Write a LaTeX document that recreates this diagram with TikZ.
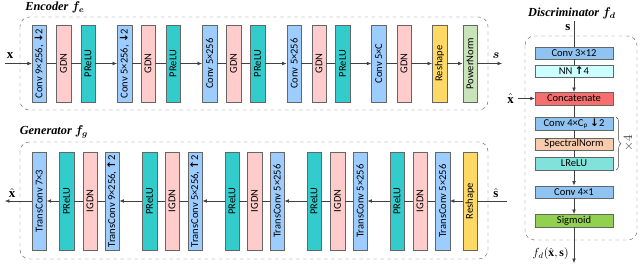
\documentclass[tikz,border=0pt]{standalone}
\usepackage{amsmath,bm}
\usepackage{fontspec}
\setmainfont{Liberation Serif}
\newfontfamily\blockfont{Carlito}
\newfontfamily\arrowfont{DejaVu Sans}
\usetikzlibrary{arrows.meta,decorations.pathreplacing}

\definecolor{convblue}{HTML}{9DCDFF}
\definecolor{gdnpink}{HTML}{FFCCCC}
\definecolor{reluteal}{HTML}{33CCCC}
\definecolor{reshapeyel}{HTML}{FFD966}
\definecolor{pnormgreen}{HTML}{C9E4B8}
\definecolor{dconvblue}{HTML}{8EC3F2}
\definecolor{nncyan}{HTML}{CCFFFF}
\definecolor{catred}{HTML}{F76E6E}
\definecolor{specpeach}{HTML}{F8CBAD}
\definecolor{lreluaqua}{HTML}{80E2DA}
\definecolor{sigmgreen}{HTML}{92D050}

\newcommand{\arrdown}{{\arrowfont\bfseries ↓}}
\newcommand{\arrup}{{\arrowfont\bfseries ↑}}

\begin{document}
\begin{tikzpicture}[
    x=0.03cm, y=-0.03cm,
    >={Latex[length=1.3mm,width=1.1mm]},
    eblock/.style={
        rectangle,
        rotate=90,
        draw=black!60,
        fill=#1,
        minimum width=2.31cm,
        minimum height=0.435cm,
        inner sep=0pt,
        font=\blockfont\fontsize{9}{10}\selectfont
    },
    gblock/.style={
        eblock=#1,
        minimum width=2.94cm
    },
    dblock/.style={
        rectangle,
        draw=black!60,
        fill=#1,
        minimum width=2.34cm,
        minimum height=0.375cm,
        inner sep=0pt,
        font=\blockfont\fontsize{9}{10}\selectfont
    },
    frame/.style={
        draw=black!60,
        dashed,
        rounded corners=8pt
    },
    title/.style={
        font=\fontsize{10.5}{12}\selectfont\bfseries\itshape
    },
    signal/.style={
        font=\fontsize{11}{12}\selectfont
    },
    link/.style={draw=black!75,line width=0.5pt},
    flow/.style={->,draw=black!75,line width=0.5pt}
]
\useasboundingbox (0,0) rectangle (640,272);

% Frames
\draw[frame] (20,17) rectangle (488,110);
\draw[frame] (20,142) rectangle (488,259);
\draw[frame] (525,36) rectangle (637,240);

% Titles
\node[title] (enctitle) at (55,7) {Encoder $\boldsymbol{f_e}$};
\node[title] (gentitle) at (54,132) {Generator $\boldsymbol{f_g}$};
\node[title] (distitle) at (572,13) {Discriminator $\boldsymbol{f_d}$};

% Encoder
\node[eblock=convblue] (e1) at (39.3,63.5) {Conv 9×256, \arrdown2};
\node[eblock=gdnpink] (e2) at (63.5,63.5) {GDN};
\node[eblock=reluteal] (e3) at (88,63.5) {PReLU};
\node[eblock=convblue] (e4) at (124.5,63.5) {Conv 5×256, \arrdown2};
\node[eblock=gdnpink] (e5) at (148,63.5) {GDN};
\node[eblock=reluteal] (e6) at (173,63.5) {PReLU};
\node[eblock=convblue] (e7) at (209.5,63.5) {Conv 5×256};
\node[eblock=gdnpink] (e8) at (233.5,63.5) {GDN};
\node[eblock=reluteal] (e9) at (257.5,63.5) {PReLU};
\node[eblock=convblue] (e10) at (294,63.5) {Conv 5×256};
\node[eblock=gdnpink] (e11) at (319,63.5) {GDN};
\node[eblock=reluteal] (e12) at (342.5,63.5) {PReLU};
\node[eblock=convblue] (e13) at (378.7,63.5) {Conv 5×C};
\node[eblock=gdnpink] (e14) at (404,63.5) {GDN};
\node[eblock=reshapeyel] (e15) at (439.5,63.5) {Reshape};
\node[eblock=pnormgreen] (e16) at (470,63.5) {PowerNorm};

\coordinate (xin) at (5,63.5);
\coordinate (sout) at (502,63.5);
\node[signal] (xlab) at (10,56) {$\mathbf{x}$};
\node[signal] (slab) at (496,56) {$\boldsymbol{s}$};

\draw[flow] (xin) -- (e1);
\draw[link] (e1) -- (e2);
\draw[link] (e2) -- (e3);
\draw[flow] (e3) -- (e4);
\draw[link] (e4) -- (e5);
\draw[link] (e5) -- (e6);
\draw[flow] (e6) -- (e7);
\draw[link] (e7) -- (e8);
\draw[link] (e8) -- (e9);
\draw[flow] (e9) -- (e10);
\draw[link] (e10) -- (e11);
\draw[link] (e11) -- (e12);
\draw[flow] (e12) -- (e13);
\draw[link] (e13) -- (e14);
\draw[flow] (e14) -- (e15);
\draw[flow] (e15) -- (e16);
\draw[flow] (e16) -- (sout);

% Generator
\node[gblock=convblue] (g1) at (39.3,201) {TransConv 7×3};
\node[gblock=reluteal] (g2) at (66.5,201) {PReLU};
\node[gblock=gdnpink] (g3) at (90,201) {IGDN};
\node[gblock=convblue] (g4) at (112,201) {TransConv 9×256, \arrup2};
\node[gblock=reluteal] (g5) at (149.5,201) {PReLU};
\node[gblock=gdnpink] (g6) at (172,201) {IGDN};
\node[gblock=convblue] (g7) at (195,201) {TransConv 5×256, \arrup2};
\node[gblock=reluteal] (g8) at (232,201) {PReLU};
\node[gblock=gdnpink] (g9) at (254.5,201) {IGDN};
\node[gblock=convblue] (g10) at (277,201) {TransConv 5×256};
\node[gblock=reluteal] (g11) at (314,201) {PReLU};
\node[gblock=gdnpink] (g12) at (337.5,201) {IGDN};
\node[gblock=convblue] (g13) at (360,201) {TransConv 5×256};
\node[gblock=reluteal] (g14) at (397,201) {PReLU};
\node[gblock=gdnpink] (g15) at (420,201) {IGDN};
\node[gblock=convblue] (g16) at (442.5,201) {TransConv 5×256};
\node[gblock=reshapeyel] (g17) at (470,201) {Reshape};

\coordinate (shatin) at (507,201);
\coordinate (xhatout) at (5,201);
\node[signal] (shatlab) at (496,193) {$\hat{\mathbf{s}}$};
\node[signal] (xhatlab) at (12,193) {$\hat{\mathbf{x}}$};

\draw[link] (shatin) -- (g17);
\draw[flow] (g17) -- (g16);
\draw[link] (g16) -- (g15);
\draw[link] (g15) -- (g14);
\draw[flow] (g14) -- (g13);
\draw[link] (g13) -- (g12);
\draw[link] (g12) -- (g11);
\draw[flow] (g11) -- (g10);
\draw[link] (g10) -- (g9);
\draw[link] (g9) -- (g8);
\draw[flow] (g8) -- (g7);
\draw[link] (g7) -- (g6);
\draw[link] (g6) -- (g5);
\draw[flow] (g5) -- (g4);
\draw[link] (g4) -- (g3);
\draw[link] (g3) -- (g2);
\draw[flow] (g2) -- (g1);
\draw[flow] (g1) -- (xhatout);

% Discriminator
\node[dblock=dconvblue] (d1) at (574,53) {Conv 3×12};
\node[dblock=nncyan] (d2) at (574,71) {NN \arrup4};
\node[dblock=catred] (d3) at (574,98.5) {Concatenate};
\node[dblock=dconvblue] (d4) at (574,123.7) {Conv 4×C\textsubscript{p} \arrdown2};
\node[dblock=specpeach] (d5) at (574,144) {SpectralNorm};
\node[dblock=lreluaqua] (d6) at (574,163.5) {LReLU};
\node[dblock=dconvblue] (d7) at (574,192) {Conv 4×1};
\node[dblock=sigmgreen] (d8) at (574,220.5) {Sigmoid};

\coordinate (sin) at (574,21);
\coordinate (xhatin) at (518,98.5);
\coordinate (fdout) at (574,263);
\node[signal] (sinlab) at (568,28) {$\mathbf{s}$};
\node[signal,left] (xhatinlab) at (xhatin) {$\hat{\mathbf{x}}$};
\node[font=\fontsize{10}{11}\selectfont,anchor=east,inner sep=1pt] (fdlab) at (570,254) {$f_d(\hat{\mathbf{x}},\mathbf{s})$};

\draw[link] (sin) -- (d1);
\draw[link] (d1) -- (d2);
\draw[flow] (d2) -- (d3);
\draw[flow] (xhatin) -- (d3);
\draw[link] (d3) -- (d4);
\draw[link] (d4) -- (d5);
\draw[link] (d5) -- (d6);
\draw[flow] (d6) -- (d7);
\draw[flow] (d7) -- (d8);
\draw[flow] (d8) -- (fdout);

% Repeat brace
\draw[black!75,decorate,decoration={brace,amplitude=4pt}] (d4.north east) ++(3,0) -- ([xshift=3*0.03cm]d6.south east) node[midway,right=3pt,rotate=90,anchor=north,signal] (reps) {$\times 4$};

\end{tikzpicture}
\end{document}
